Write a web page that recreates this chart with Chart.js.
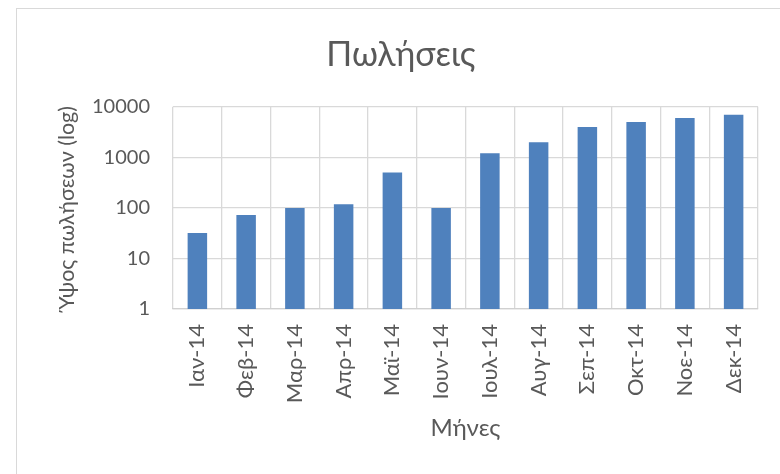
<!DOCTYPE html>
<html>
<head>
<meta charset="utf-8">
<script src="https://cdn.jsdelivr.net/npm/chart.js@4/dist/chart.umd.min.js"></script>
<style>
  html, body { margin: 0; padding: 0; background: #fff; overflow: hidden; }
  #frame {
    position: absolute; left: 16px; top: 8px; width: 800px; height: 500px;
    border: 1px solid #d9d9d9; box-sizing: border-box;
  }
  #salesChart { position: absolute; left: 0; top: 0; }
</style>
</head>
<body>
<div id="frame"></div>
<canvas id="salesChart" width="780" height="474"></canvas>
<script>
// ===== DATA =====
const months = ["Ιαν-14", "Φεβ-14", "Μαρ-14", "Απρ-14", "Μαϊ-14", "Ιουν-14",
                "Ιουλ-14", "Αυγ-14", "Σεπ-14", "Οκτ-14", "Νοε-14", "Δεκ-14"];
const sales = [32, 72, 100, 118, 500, 100, 1200, 2000, 4000, 5000, 6000, 7000];
const yTicks = [1, 10, 100, 1000, 10000];

const FONT = "Lato, 'Noto Sans', sans-serif";
const TEXT = "#595959";
const GRID = "#d9d9d9";

new Chart(document.getElementById("salesChart"), {
    type: "bar",
    data: {
        labels: months,
        datasets: [{
            data: sales,
            backgroundColor: "#4f81bd",
            borderWidth: 0,
            barPercentage: 0.4,
            categoryPercentage: 1
        }]
    },
    options: {
        responsive: false,
        animation: false,
        // left padding shifts the title centre to the right, as in Excel
        layout: { padding: { left: 44, right: 22, top: 0, bottom: 0 } },
        plugins: {
            legend: { display: false },
            tooltip: { enabled: false },
            title: {
                display: true,
                text: "Πωλήσεις",
                color: TEXT,
                font: { family: FONT, size: 34, weight: "normal" },
                padding: { top: 35, bottom: 31 }
            }
        },
        scales: {
            x: {
                offset: true,
                grid: { color: GRID, lineWidth: 1.3, drawTicks: false, offset: true },
                border: { display: true, color: "#d0d0d0", width: 1.3 },
                ticks: {
                    color: TEXT,
                    font: { family: FONT, size: 22 },
                    minRotation: 90,
                    maxRotation: 90,
                    padding: 15,
                    autoSkip: false
                },
                title: {
                    display: true,
                    text: "Μήνες",
                    color: TEXT,
                    font: { family: FONT, size: 24 },
                    padding: { top: 0, bottom: 31 }
                },
                afterFit: s => { s.height = 474 - 309; }
            },
            y: {
                type: "logarithmic",
                min: 1,
                max: 10000,
                grid: { color: GRID, lineWidth: 1.3, drawTicks: false },
                border: { display: false },
                ticks: {
                    color: TEXT,
                    font: { family: FONT, size: 20 },
                    padding: 23,
                    callback: v => String(v)
                },
                afterBuildTicks: s => { s.ticks = yTicks.map(v => ({ value: v })); },
                title: {
                    display: true,
                    text: "Ύψος πωλήσεων (log)",
                    color: TEXT,
                    font: { family: FONT, size: 21.5 },
                    padding: { top: 10, bottom: 0 }
                },
                afterFit: s => { s.width = 173 - 44; }
            }
        }
    }
});
</script>
</body>
</html>
